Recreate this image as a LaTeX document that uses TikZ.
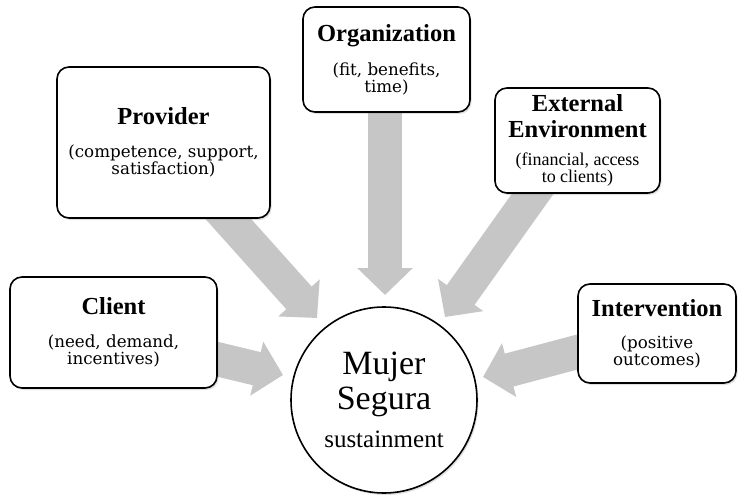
\documentclass[tikz,border=0pt]{standalone}
\usepackage{fontspec}
\setmainfont{DejaVu Serif}
\newfontfamily\libfnt{Liberation Serif}
\usetikzlibrary{arrows.meta,shadows}
\pgfdeclarelayer{paper}
\pgfdeclarelayer{arrowlayer}
\pgfsetlayers{paper,arrowlayer,main}
\definecolor{arrowgray}{RGB}{198,198,198}
\newcommand\titlefnt{\libfnt\bfseries\fontsize{24.5}{26}\selectfont}
\newcommand\bodyfnt{\fontsize{16.7}{17}\selectfont}
\newcommand\extbodyfnt{\libfnt\fontsize{18}{17}\selectfont}
\begin{document}
\begin{tikzpicture}[x=1pt,y=-1pt,
  box/.style={draw=black, line width=1.6pt, rounded corners=12pt, fill=white,
    align=center, inner sep=0pt, font=\bodyfnt,
    drop shadow={opacity=0.25, shadow xshift=1.5pt, shadow yshift=-2pt}},
  hub/.style={draw=black, line width=1.6pt, circle, fill=white, minimum size=186pt,
    inner sep=0pt, align=center, font=\libfnt\fontsize{34}{35}\selectfont,
    drop shadow={opacity=0.25, shadow xshift=1.5pt, shadow yshift=-2pt}},
  fatarrow/.style={draw=arrowgray, line width=34pt,
    -{Triangle[length=27pt,width=54pt]}}]
\begin{pgfonlayer}{paper}
\useasboundingbox[fill=white] (0,0) rectangle (745,503);
\end{pgfonlayer}

\node[box, minimum width=207pt, minimum height=111pt] (client) at (113.5,332.5)
  {{\titlefnt Client}\\[16pt](need, demand,\\incentives)};
\node[box, minimum width=213pt, minimum height=151pt] (provider) at (163.5,142.5)
  {{\titlefnt Provider}\\[16pt](competence, support,\\satisfaction)};
\node[box, minimum width=167pt, minimum height=105pt] (org) at (386.5,59.5)
  {{\titlefnt Organization}\\[15pt](fit, benefits,\\time)};
\node[box, minimum width=165pt, minimum height=105pt, font=\extbodyfnt] (ext) at (577.5,140.5)
  {{\titlefnt External}\\[7pt]{\titlefnt Environment}\\[11pt](financial, access\\to clients)};
\node[box, minimum width=158pt, minimum height=99pt] (interv) at (657,333.5)
  {{\titlefnt Intervention}\\[15pt](positive\\outcomes)};
\node[hub] (hub) at (384,400)
  {Mujer\\Segura\\[3pt]{\fontsize{25}{26}\selectfont sustainment}};

\coordinate (clientS) at (200,355);
\coordinate (clientT) at (283,375);
\coordinate (provS) at (205,193);
\coordinate (provT) at (317,318);
\coordinate (orgS) at (385,100);
\coordinate (orgT) at (385,295);
\coordinate (extS) at (544,178);
\coordinate (extT) at (445,317);
\coordinate (intS) at (600,346);
\coordinate (intT) at (483,377);

\begin{pgfonlayer}{arrowlayer}
\draw[fatarrow] (clientS) -- (clientT);
\draw[fatarrow] (provS) -- (provT);
\draw[fatarrow] (orgS) -- (orgT);
\draw[fatarrow] (extS) -- (extT);
\draw[fatarrow] (intS) -- (intT);
\end{pgfonlayer}
\end{tikzpicture}
\end{document}
